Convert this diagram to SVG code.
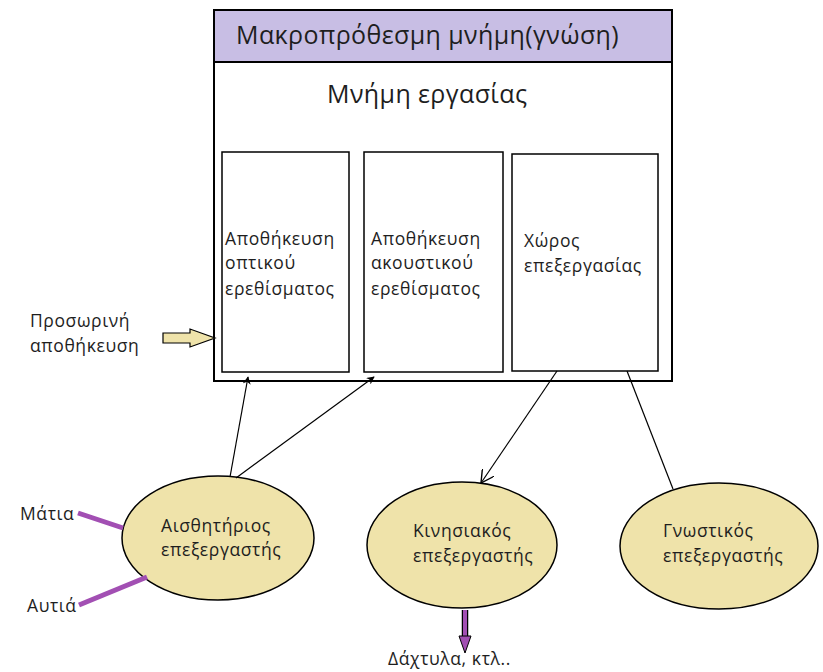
<svg xmlns="http://www.w3.org/2000/svg" width="823" height="672" viewBox="0 0 823 672">
<defs>
<style>
text{font-family:"Open Sans","Noto Sans","DejaVu Sans",sans-serif;fill:#1e1e1e}
.t{font-size:17.5px;letter-spacing:0.6px}
.h{font-size:25px;letter-spacing:0.4px}
.box{fill:#fff;stroke:#000;stroke-width:1.5}
.ell{fill:#efe3aa;stroke:#000;stroke-width:1.5}
.ln{stroke:#000;stroke-width:1.2;fill:none}
.pl{stroke:#a24fb3;stroke-width:5;fill:none}
</style>
<marker id="ah" viewBox="0 0 10 10" refX="9" refY="5" markerWidth="8" markerHeight="8" orient="auto" markerUnits="userSpaceOnUse">
<path d="M0,0 L10,5 L0,10 L3,5 z" fill="#000"/>
</marker>
<marker id="oa" viewBox="0 0 12 12" refX="11" refY="6" markerWidth="14" markerHeight="14" orient="auto" markerUnits="userSpaceOnUse">
<path d="M0,0 L11,6 L0,12" fill="none" stroke="#000" stroke-width="1.2"/>
</marker>
</defs>

<g id="ltm">
<rect x="214" y="10" width="458" height="371" fill="#fff" stroke="#000" stroke-width="2"/>
<rect x="214" y="10" width="458" height="52" fill="#c8bee4" stroke="#000" stroke-width="2"/>
<text class="h" x="236" y="44">Μακροπρόθεσμη μνήμη(γνώση)</text>
<text class="h" x="327" y="103">Μνήμη εργασίας</text>
</g>

<g id="visual">
<rect class="box" x="222" y="152" width="127" height="220"/>
<text class="t" x="225" y="245">Αποθήκευση</text>
<text class="t" x="225" y="269">οπτικού</text>
<text class="t" x="225" y="295">ερεθίσματος</text>
</g>

<g id="auditory">
<rect class="box" x="364" y="152" width="139" height="220"/>
<text class="t" x="371" y="245">Αποθήκευση</text>
<text class="t" x="371" y="269">ακουστικού</text>
<text class="t" x="371" y="295">ερεθίσματος</text>
</g>

<g id="workspace">
<rect class="box" x="512" y="154" width="146" height="217"/>
<text class="t" x="524" y="247">Χώρος</text>
<text class="t" x="524" y="272">επεξεργασίας</text>
</g>

<g id="temp">
<text class="t" x="30" y="327">Προσωρινή</text>
<text class="t" x="30" y="352">αποθήκευση</text>
<path d="M163,333 H190 V329 L215,338 L190,347 V343 H163 Z" fill="#efe3aa" stroke="#000" stroke-width="1.2"/>
</g>

<g id="sensory">
<ellipse class="ell" cx="218" cy="538" rx="96" ry="62"/>
<text class="t" x="161" y="532">Αισθητήριος</text>
<text class="t" x="161" y="556">επεξεργαστής</text>
</g>

<g id="motor">
<ellipse class="ell" cx="462" cy="545" rx="95" ry="63"/>
<text class="t" x="413" y="537">Κινησιακός</text>
<text class="t" x="413" y="562">επεξεργαστής</text>
</g>

<g id="cognitive">
<ellipse class="ell" cx="719" cy="546" rx="99" ry="63"/>
<text class="t" x="663" y="537">Γνωστικός</text>
<text class="t" x="663" y="562">επεξεργαστής</text>
</g>

<g id="eyes"><text class="t" x="20" y="520">Μάτια</text></g>
<g id="ears"><text class="t" x="27" y="612">Αυτιά</text></g>
<g id="fingers"><text class="t" x="388" y="665">Δάχτυλα, κτλ..</text></g>

<g id="connectors">
<line class="ln" x1="230" y1="477" x2="248" y2="377" marker-end="url(#ah)"/>
<line class="ln" x1="236" y1="478" x2="374" y2="377" marker-end="url(#ah)"/>
<line class="ln" x1="557" y1="371" x2="481" y2="483" marker-end="url(#oa)"/>
<line class="ln" x1="627" y1="371" x2="673" y2="489"/>
<line class="pl" x1="78" y1="513" x2="123" y2="528"/>
<line class="pl" x1="79" y1="605" x2="147" y2="577"/>
<line stroke="#000" stroke-width="6.5" x1="465" y1="610" x2="465" y2="638"/>
<line stroke="#a24fb3" stroke-width="4" x1="465" y1="610" x2="465" y2="639"/>
<path d="M459,636 L471,636 L465,653 Z" fill="#a24fb3" stroke="#000" stroke-width="1"/>
</g>
</svg>
